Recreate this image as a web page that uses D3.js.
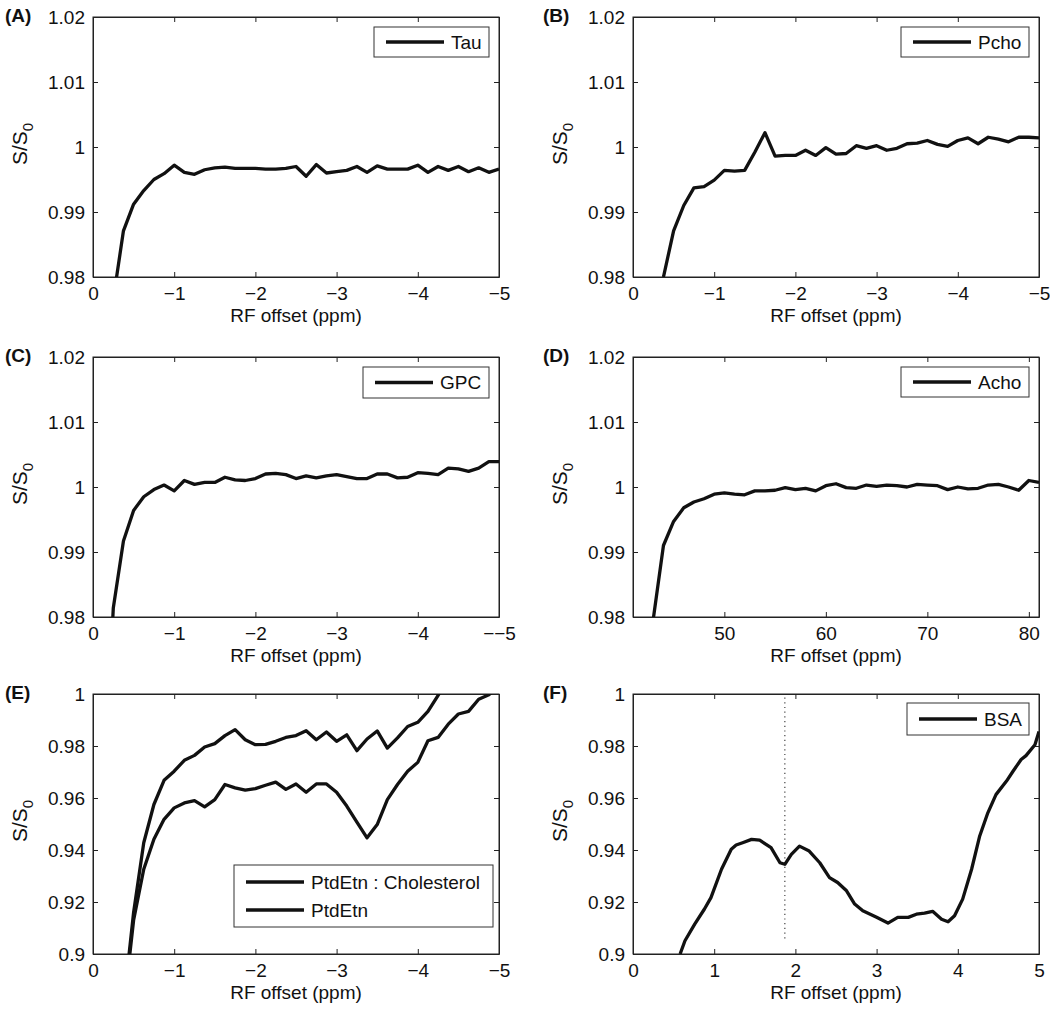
<!DOCTYPE html>
<html><head><meta charset="utf-8">
<script src="https://cdn.jsdelivr.net/npm/d3@7"></script>
<style>
body{margin:0;background:#fff;}
text{font-family:"Liberation Sans",Arial,Helvetica,sans-serif;}
</style></head><body>
<svg id="chart" width="1050" height="1013"></svg>
<script>
// ---------------- DATA ----------------
const tauX = [-0.25,-0.375,-0.5,-0.625,-0.75,-0.875,-1,-1.125,-1.25,-1.375,-1.5,-1.625,-1.75,-1.875,-2,-2.125,-2.25,-2.375,-2.5,-2.625,-2.75,-2.875,-3,-3.125,-3.25,-3.375,-3.5,-3.625,-3.75,-3.875,-4,-4.125,-4.25,-4.375,-4.5,-4.625,-4.75,-4.875,-5];
const tauY = [0.9766,0.9871,0.9912,0.9933,0.9950,0.9959,0.9972,0.9961,0.9958,0.9965,0.9968,0.9969,0.9967,0.9967,0.9967,0.9966,0.9966,0.9967,0.9970,0.9955,0.9973,0.9960,0.9962,0.9964,0.9970,0.9961,0.9971,0.9966,0.9966,0.9966,0.9972,0.9961,0.9970,0.9964,0.9970,0.9962,0.9968,0.9961,0.9966];

const pchoX = [-0.375,-0.5,-0.625,-0.75,-0.875,-1,-1.125,-1.25,-1.375,-1.5,-1.625,-1.75,-1.875,-2,-2.125,-2.25,-2.375,-2.5,-2.625,-2.75,-2.875,-3,-3.125,-3.25,-3.375,-3.5,-3.625,-3.75,-3.875,-4,-4.125,-4.25,-4.375,-4.5,-4.625,-4.75,-4.875,-5];
const pchoY = [0.9800,0.9871,0.9910,0.9937,0.9939,0.9949,0.9964,0.9963,0.9964,0.9992,1.0022,0.9986,0.9987,0.9987,0.9995,0.9987,0.9999,0.9989,0.9990,1.0002,0.9998,1.0002,0.9995,0.9998,1.0005,1.0006,1.0010,1.0004,1.0001,1.0010,1.0014,1.0005,1.0015,1.0012,1.0008,1.0015,1.0015,1.0014];

const gpcX = [-0.125,-0.25,-0.375,-0.5,-0.625,-0.75,-0.875,-1,-1.125,-1.25,-1.375,-1.5,-1.625,-1.75,-1.875,-2,-2.125,-2.25,-2.375,-2.5,-2.625,-2.75,-2.875,-3,-3.125,-3.25,-3.375,-3.5,-3.625,-3.75,-3.875,-4,-4.125,-4.25,-4.375,-4.5,-4.625,-4.75,-4.875,-5];
const gpcY = [0.9500,0.9814,0.9917,0.9964,0.9985,0.9996,1.0003,0.9994,1.0010,1.0004,1.0007,1.0007,1.0015,1.0011,1.0010,1.0013,1.0020,1.0021,1.0019,1.0013,1.0017,1.0014,1.0017,1.0019,1.0016,1.0013,1.0013,1.0020,1.0020,1.0014,1.0015,1.0022,1.0021,1.0019,1.0029,1.0028,1.0024,1.0029,1.0039,1.0039];

const achoX = [43,44,45,46,47,48,49,50,51,52,53,54,55,56,57,58,59,60,61,62,63,64,65,66,67,68,69,70,71,72,73,74,75,76,77,78,79,80,81];
const achoY = [0.9797,0.9910,0.9947,0.9968,0.9977,0.9982,0.9989,0.9991,0.9989,0.9988,0.9994,0.9994,0.9995,0.9999,0.9996,0.9998,0.9994,1.0002,1.0005,0.9999,0.9998,1.0003,1.0001,1.0003,1.0002,1.0000,1.0004,1.0003,1.0002,0.9996,1.0000,0.9997,0.9998,1.0003,1.0004,1.0000,0.9995,1.0010,1.0007];

const ptdCholX = [-0.375,-0.5,-0.625,-0.75,-0.875,-1,-1.125,-1.25,-1.375,-1.5,-1.625,-1.75,-1.875,-2,-2.125,-2.25,-2.375,-2.5,-2.625,-2.75,-2.875,-3,-3.125,-3.25,-3.375,-3.5,-3.625,-3.75,-3.875,-4,-4.125,-4.25,-4.375];
const ptdCholY = [0.880,0.916,0.9428,0.9575,0.9668,0.9703,0.9745,0.9764,0.9796,0.9809,0.9840,0.9863,0.9824,0.9805,0.9806,0.9818,0.9833,0.9840,0.9859,0.9824,0.9854,0.9818,0.9843,0.9782,0.9827,0.9858,0.9792,0.9831,0.9875,0.9891,0.9933,0.9995,1.0060];

const ptdX = [-0.375,-0.5,-0.625,-0.75,-0.875,-1,-1.125,-1.25,-1.375,-1.5,-1.625,-1.75,-1.875,-2,-2.125,-2.25,-2.375,-2.5,-2.625,-2.75,-2.875,-3,-3.125,-3.25,-3.375,-3.5,-3.625,-3.75,-3.875,-4,-4.125,-4.25,-4.375,-4.5,-4.625,-4.75,-4.875,-5];
const ptdY = [0.878,0.913,0.9326,0.9441,0.9518,0.9562,0.9581,0.9590,0.9566,0.9594,0.9652,0.9639,0.9630,0.9636,0.9649,0.9661,0.9633,0.9654,0.9622,0.9654,0.9654,0.9622,0.9569,0.9507,0.9447,0.9498,0.9594,0.9652,0.9703,0.9737,0.9820,0.9833,0.9884,0.9923,0.9933,0.9980,0.9997,1.0030];

const bsaX = [0.58,0.64,0.76,0.88,0.96,1.09,1.21,1.27,1.35,1.46,1.56,1.70,1.81,1.87,1.95,2.05,2.17,2.30,2.42,2.52,2.63,2.73,2.83,3.0,3.14,3.26,3.39,3.49,3.59,3.69,3.80,3.88,3.96,4.06,4.17,4.27,4.37,4.47,4.60,4.68,4.78,4.84,4.95,5.0];
const bsaY = [0.9,0.9051,0.9115,0.9173,0.9217,0.9326,0.9403,0.9419,0.9428,0.9441,0.9438,0.9409,0.9351,0.9345,0.9383,0.9415,0.9396,0.9351,0.9294,0.9275,0.9243,0.9192,0.9166,0.9141,0.9119,0.9141,0.9141,0.9153,0.9157,0.9164,0.9134,0.9124,0.9147,0.9211,0.9326,0.9454,0.9543,0.9613,0.9665,0.9703,0.9748,0.9763,0.9805,0.9856];
const bsaMarkerX = 1.87;
const bsaMarkerY = [0.906, 1.0];

const negTicks = [0,-1,-2,-3,-4,-5];
const negTickLabels = ['0','\u22121','\u22122','\u22123','\u22124','\u22125'];
const gpcTickLabels = ['0','\u22121','\u22122','\u22123','\u22124','\u2212\u22125'];
const achoTicks = [50,60,70,80];
const achoTickLabels = ['50','60','70','80'];
const posTicks = [0,1,2,3,4,5];
const posTickLabels = ['0','1','2','3','4','5'];
const fineYTicks = [0.98,0.99,1,1.01,1.02];
const fineYLabels = ['0.98','0.99','1','1.01','1.02'];
const coarseYTicks = [0.9,0.92,0.94,0.96,0.98,1];
const coarseYLabels = ['0.9','0.92','0.94','0.96','0.98','1'];
const panelLetters = ['(A)','(B)','(C)','(D)','(E)','(F)'];
const xAxisTitle = 'RF offset (ppm)';

// ---------------- LAYOUT ----------------
const svg = d3.select('#chart');
const colX = [93, 633];
const rowY = [17, 357, 694];
const plotW = 406, plotH = 260;
const FONT = 19;
const ink = '#111';

const panels = [
  {col:0,row:0,xDomain:[0,-5],xTicks:negTicks,xLabels:negTickLabels,yDomain:[0.98,1.02],yTicks:fineYTicks,yLabels:fineYLabels,
   series:[{x:tauX,y:tauY}], legend:{names:['Tau'],w:115,h:30,right:10,top:10}},
  {col:1,row:0,xDomain:[0,-5],xTicks:negTicks,xLabels:negTickLabels,yDomain:[0.98,1.02],yTicks:fineYTicks,yLabels:fineYLabels,
   series:[{x:pchoX,y:pchoY}], legend:{names:['Pcho'],w:128,h:30,right:10,top:10}},
  {col:0,row:1,xDomain:[0,-5],xTicks:negTicks,xLabels:gpcTickLabels,yDomain:[0.98,1.02],yTicks:fineYTicks,yLabels:fineYLabels,
   series:[{x:gpcX,y:gpcY}], legend:{names:['GPC'],w:126,h:31,right:10,top:10}},
  {col:1,row:1,xDomain:[41,81],xTicks:achoTicks,xLabels:achoTickLabels,yDomain:[0.98,1.02],yTicks:fineYTicks,yLabels:fineYLabels,
   series:[{x:achoX,y:achoY}], legend:{names:['Acho'],w:128,h:30,right:10,top:10}},
  {col:0,row:2,xDomain:[0,-5],xTicks:negTicks,xLabels:negTickLabels,yDomain:[0.9,1],yTicks:coarseYTicks,yLabels:coarseYLabels,
   series:[{x:ptdCholX,y:ptdCholY},{x:ptdX,y:ptdY}], legend:{names:['PtdEtn : Cholesterol','PtdEtn'],w:259,h:62,right:6,bottom:27}},
  {col:1,row:2,xDomain:[0,5],xTicks:posTicks,xLabels:posTickLabels,yDomain:[0.9,1],yTicks:coarseYTicks,yLabels:coarseYLabels,
   series:[{x:bsaX,y:bsaY}], legend:{names:['BSA'],w:122,h:32,right:10,top:9}, marker:true}
];

panels.forEach((p, i) => {
  const x0 = colX[p.col], y0 = rowY[p.row];
  const g = svg.append('g').attr('transform', `translate(${x0},${y0})`);
  const x = d3.scaleLinear().domain(p.xDomain).range([0, plotW]);
  const y = d3.scaleLinear().domain(p.yDomain).range([plotH, 0]);

  const clipId = 'clip' + i;
  g.append('clipPath').attr('id', clipId).append('rect')
    .attr('x', 0).attr('y', 0).attr('width', plotW).attr('height', plotH);

  // axes
  const styleAxis = sel => {
    sel.attr('font-size', FONT).attr('font-family', '"Liberation Sans",Arial,Helvetica,sans-serif')
       .attr('color', '#222');
    sel.selectAll('text').attr('fill', ink);
  };
  g.append('g').attr('transform', `translate(0,${plotH})`)
    .call(d3.axisBottom(x).tickValues(p.xTicks).tickFormat((d, k) => p.xLabels[k])
      .tickSizeInner(-5).tickSizeOuter(0).tickPadding(10)).call(styleAxis);
  g.append('g')
    .call(d3.axisTop(x).tickValues(p.xTicks).tickFormat('').tickSizeInner(-5).tickSizeOuter(0)).call(styleAxis);
  g.append('g')
    .call(d3.axisLeft(y).tickValues(p.yTicks).tickFormat((d, k) => p.yLabels[k])
      .tickSizeInner(-5).tickSizeOuter(0).tickPadding(8)).call(styleAxis);
  g.append('g').attr('transform', `translate(${plotW},0)`)
    .call(d3.axisRight(y).tickValues(p.yTicks).tickFormat('').tickSizeInner(-5).tickSizeOuter(0)).call(styleAxis);
  g.append('rect').attr('width', plotW).attr('height', plotH)
    .attr('fill', 'none').attr('stroke', '#222').attr('stroke-width', 1);

  // marker line (F)
  if (p.marker) {
    g.append('line')
      .attr('x1', x(bsaMarkerX)).attr('x2', x(bsaMarkerX))
      .attr('y1', y(bsaMarkerY[0])).attr('y2', y(bsaMarkerY[1]))
      .attr('stroke', '#444').attr('stroke-width', 1.2).attr('stroke-dasharray', '1.2,3.5');
  }

  // series
  const lineGen = d3.line().x(d => x(d[0])).y(d => y(d[1]));
  p.series.forEach(s => {
    const pts = s.x.map((v, k) => [v, s.y[k]]);
    g.append('path').attr('d', lineGen(pts)).attr('clip-path', `url(#${clipId})`)
      .attr('fill', 'none').attr('stroke', ink).attr('stroke-width', 3.3)
      .attr('stroke-linejoin', 'round').attr('stroke-linecap', 'butt');
  });

  // legend
  const L = p.legend;
  const lx = plotW - L.right - L.w;
  const ly = (L.top !== undefined) ? L.top : plotH - L.bottom - L.h;
  const lg = g.append('g').attr('transform', `translate(${lx},${ly})`);
  lg.append('rect').attr('width', L.w).attr('height', L.h)
    .attr('fill', '#fff').attr('stroke', '#333').attr('stroke-width', 1);
  const rowH = L.names.length > 1 ? 28 : 0;
  const firstY = L.names.length > 1 ? 17 : L.h / 2;
  L.names.forEach((name, k) => {
    const cy = firstY + k * rowH;
    lg.append('line').attr('x1', 12).attr('x2', 70).attr('y1', cy).attr('y2', cy)
      .attr('stroke', ink).attr('stroke-width', 3.5);
    lg.append('text').attr('x', 77).attr('y', cy).attr('dy', '0.35em')
      .attr('font-size', FONT).attr('fill', ink).text(name);
  });

  // x axis title
  g.append('text').attr('x', plotW / 2).attr('y', plotH + 45)
    .attr('text-anchor', 'middle').attr('font-size', FONT).attr('fill', ink).text(xAxisTitle);

  // y axis title S/S0
  const yt = g.append('text')
    .attr('transform', `translate(${-66},${plotH / 2 - 3}) rotate(-90)`)
    .attr('text-anchor', 'middle').attr('font-size', 21).attr('fill', ink);
  yt.append('tspan').text('S/S');
  yt.append('tspan').attr('font-size', 15).attr('dy', 6).text('0');

  // panel letter
  svg.append('text').attr('x', p.col === 0 ? 5 : 543).attr('y', y0 + 5)
    .attr('font-size', FONT).attr('font-weight', 'bold').attr('fill', ink).text(panelLetters[i]);
});
</script>
</body></html>
